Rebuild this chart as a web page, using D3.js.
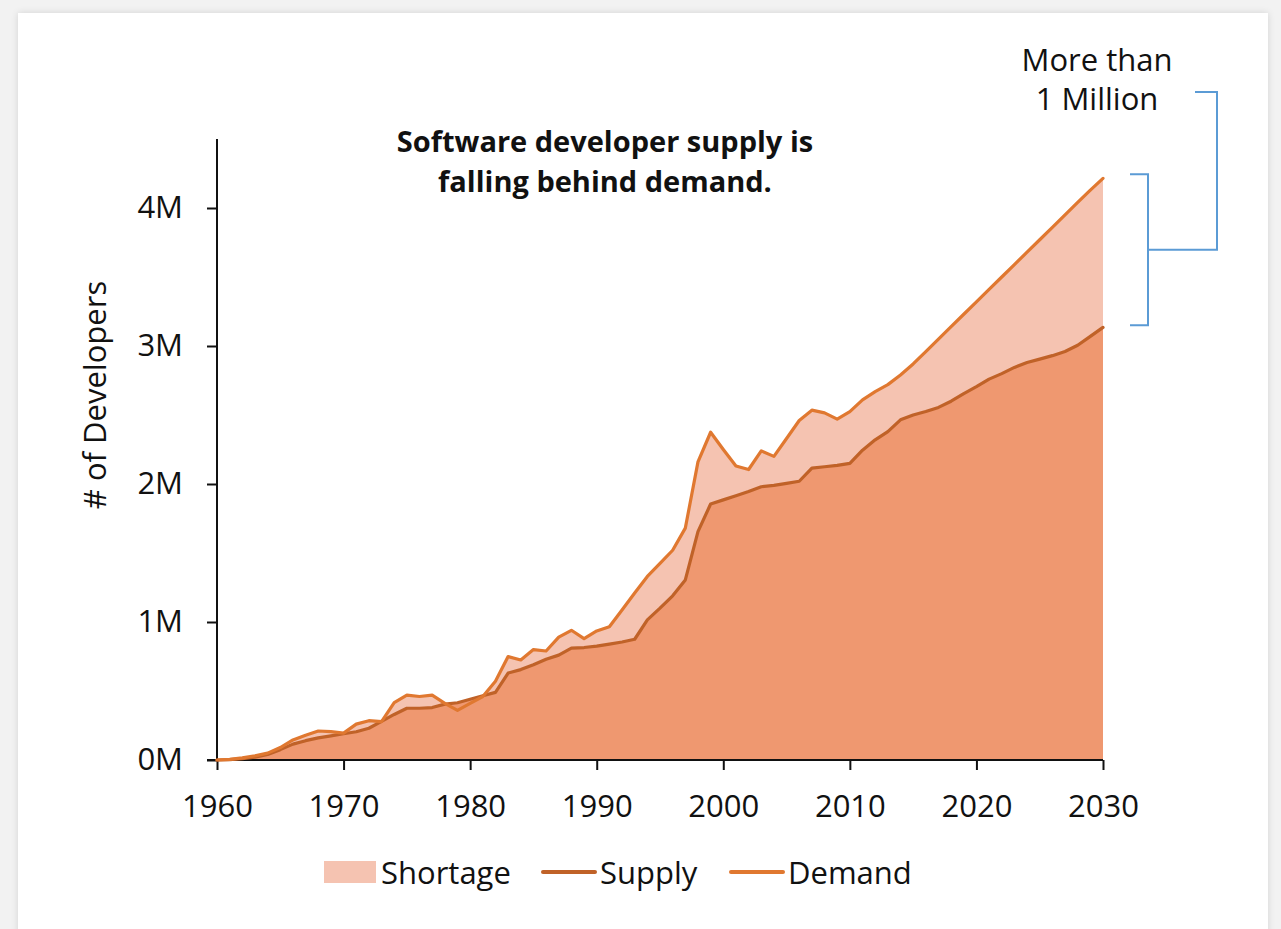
<!DOCTYPE html>
<html>
<head>
<meta charset="utf-8">
<script src="https://cdn.jsdelivr.net/npm/d3@7"></script>
<style>
  html, body { margin: 0; padding: 0; width: 1281px; height: 929px; overflow: hidden; background: #f2f2f2; }
  #card { position: absolute; left: 18px; top: 13px; width: 1250px; height: 940px; background: #fff;
          box-shadow: 0 0 7px rgba(0,0,0,0.13); }
  svg { position: absolute; left: 0; top: 0; }
  text { font-family: "Open Sans", "Noto Sans", sans-serif; fill: #111; }
</style>
</head>
<body>
<div id="card"></div>
<svg id="chart" width="1281" height="929"></svg>
<script>
const years = [1960,1961,1962,1963,1964,1965,1966,1967,1968,1969,
  1970,1971,1972,1973,1974,1975,1976,1977,1978,1979,
  1980,1981,1982,1983,1984,1985,1986,1987,1988,1989,
  1990,1991,1992,1993,1994,1995,1996,1997,1998,1999,
  2000,2001,2002,2003,2004,2005,2006,2007,2008,2009,
  2010,2011,2012,2013,2014,2015,2016,2017,2018,2019,
  2020,2021,2022,2023,2024,2025,2026,2027,2028,2029,2030];

// millions of developers
const demand = [0.00,0.005,0.015,0.03,0.05,0.09,0.145,0.18,0.21,0.205,
  0.195,0.26,0.285,0.278,0.415,0.47,0.46,0.47,0.41,0.36,
  0.41,0.46,0.57,0.75,0.725,0.80,0.79,0.89,0.94,0.88,
  0.935,0.965,1.087,1.21,1.33,1.425,1.52,1.68,2.16,2.375,
  2.25,2.13,2.105,2.24,2.20,2.33,2.46,2.535,2.515,2.47,
  2.525,2.61,2.67,2.72,2.79,2.87,2.96,3.05,3.14,3.23,
  3.32,3.41,3.50,3.59,3.68,3.77,3.86,3.95,4.04,4.13,4.215];

const supply = [0.00,0.003,0.01,0.02,0.04,0.075,0.115,0.14,0.16,0.175,
  0.19,0.205,0.23,0.28,0.33,0.375,0.375,0.38,0.405,0.415,
  0.44,0.465,0.49,0.63,0.655,0.69,0.73,0.76,0.81,0.815,
  0.825,0.84,0.855,0.875,1.015,1.10,1.19,1.305,1.655,1.855,
  1.885,1.915,1.945,1.98,1.99,2.005,2.02,2.115,2.125,2.135,
  2.15,2.245,2.32,2.38,2.465,2.50,2.525,2.555,2.60,2.655,
  2.705,2.76,2.80,2.845,2.88,2.905,2.93,2.96,3.005,3.07,3.135];

const xTicks = [1960,1970,1980,1990,2000,2010,2020,2030];
const yTicks = [0,1,2,3,4];
const yTickLabels = ["0M","1M","2M","3M","4M"];
const titleLines = ["Software developer supply is","falling behind demand."];
const noteLines = ["More than","1 Million"];
const legendItems = ["Shortage","Supply","Demand"];

const C = { shortage:"#f5c3b1", supplyFill:"#ef9870", supplyLine:"#c06228", demandLine:"#e07830", bracket:"#5b9bd5" };
const FS = 31;

const data = years.map((y,i)=>({year:y, demand:demand[i], supply:supply[i]}));

const svg = d3.select("#chart");
const x = d3.scaleLinear().domain([1960,2030]).range([217,1103]);
const y = d3.scaleLinear().domain([0,4.5]).range([760,139]);

// areas
const demandArea = d3.area().x(d=>x(d.year)).y0(y(0)).y1(d=>y(d.demand));
const supplyArea = d3.area().x(d=>x(d.year)).y0(y(0)).y1(d=>y(d.supply));
svg.append("path").datum(data).attr("d",demandArea).attr("fill",C.shortage);
svg.append("path").datum(data).attr("d",supplyArea).attr("fill",C.supplyFill);

// axes
const yAxis = d3.axisLeft(y).tickValues(yTicks).tickFormat((d,i)=>yTickLabels[i]).tickSize(10).tickPadding(24);
const gy = svg.append("g").attr("transform",`translate(${x(1960)},0)`).call(yAxis);
gy.select(".domain").attr("stroke","#111").attr("stroke-width",2).attr("d",`M0,${y(4.5)}V${y(0)}`);
gy.selectAll(".tick line").attr("stroke","#111").attr("stroke-width",2);
gy.selectAll(".tick text").attr("font-size",FS).attr("font-family","Open Sans").attr("fill","#111");

const xAxis = d3.axisBottom(x).tickValues(xTicks).tickFormat(d3.format("d")).tickSize(10).tickPadding(25);
const gx = svg.append("g").attr("transform",`translate(0,${y(0)})`).call(xAxis);
gx.select(".domain").attr("stroke","#111").attr("stroke-width",2).attr("d",`M${x(1960)-10},0H${x(2030)}`);
gx.selectAll(".tick line").attr("stroke","#111").attr("stroke-width",2);
gx.selectAll(".tick text").attr("font-size",FS).attr("font-family","Open Sans").attr("fill","#111");

// lines
const supplyLine = d3.line().x(d=>x(d.year)).y(d=>y(d.supply));
const demandLine = d3.line().x(d=>x(d.year)).y(d=>y(d.demand));
svg.append("path").datum(data).attr("d",supplyLine).attr("fill","none").attr("stroke",C.supplyLine).attr("stroke-width",3.2).attr("stroke-linejoin","round").attr("stroke-linecap","round");
svg.append("path").datum(data).attr("d",demandLine).attr("fill","none").attr("stroke",C.demandLine).attr("stroke-width",3.2).attr("stroke-linejoin","round").attr("stroke-linecap","round");

// y label
svg.append("text").attr("transform","translate(106,395) rotate(-90)").attr("text-anchor","middle")
  .attr("font-size",FS).text("# of Developers");

// title
svg.append("text").attr("text-anchor","middle").attr("font-size",29).attr("font-weight","bold")
  .selectAll("tspan").data(titleLines).join("tspan").attr("x",605).attr("y",(d,i)=>152+i*40).text(d=>d);

// note
svg.append("text").attr("text-anchor","middle").attr("font-size",FS)
  .selectAll("tspan").data(noteLines).join("tspan").attr("x",1097).attr("y",(d,i)=>71+i*39).text(d=>d);

// bracket
const last = data[data.length-1];
const xe = x(last.year);
const bTop = y(last.demand)-4, bBot = y(last.supply)-2, bMid = (bTop+bBot)/2;
const bp = d3.path();
bp.moveTo(xe+27,bTop); bp.lineTo(xe+45,bTop); bp.lineTo(xe+45,bBot); bp.lineTo(xe+27,bBot);
bp.moveTo(xe+45,bMid); bp.lineTo(xe+114,bMid); bp.lineTo(xe+114,92); bp.lineTo(xe+92,92);
svg.append("path").attr("d",bp.toString()).attr("fill","none").attr("stroke",C.bracket).attr("stroke-width",2);

// legend
const lg = svg.append("g");
lg.append("rect").attr("x",324).attr("y",861).attr("width",52).attr("height",22).attr("fill",C.shortage);
lg.append("text").attr("x",381).attr("y",884).attr("font-size",FS).text(legendItems[0]);
lg.append("line").attr("x1",543).attr("x2",595).attr("y1",872).attr("y2",872).attr("stroke",C.supplyLine).attr("stroke-width",4).attr("stroke-linecap","round");
lg.append("text").attr("x",600).attr("y",884).attr("font-size",FS).text(legendItems[1]);
lg.append("line").attr("x1",731).attr("x2",783).attr("y1",872).attr("y2",872).attr("stroke",C.demandLine).attr("stroke-width",4).attr("stroke-linecap","round");
lg.append("text").attr("x",788).attr("y",884).attr("font-size",FS).text(legendItems[2]);
</script>
</body>
</html>
